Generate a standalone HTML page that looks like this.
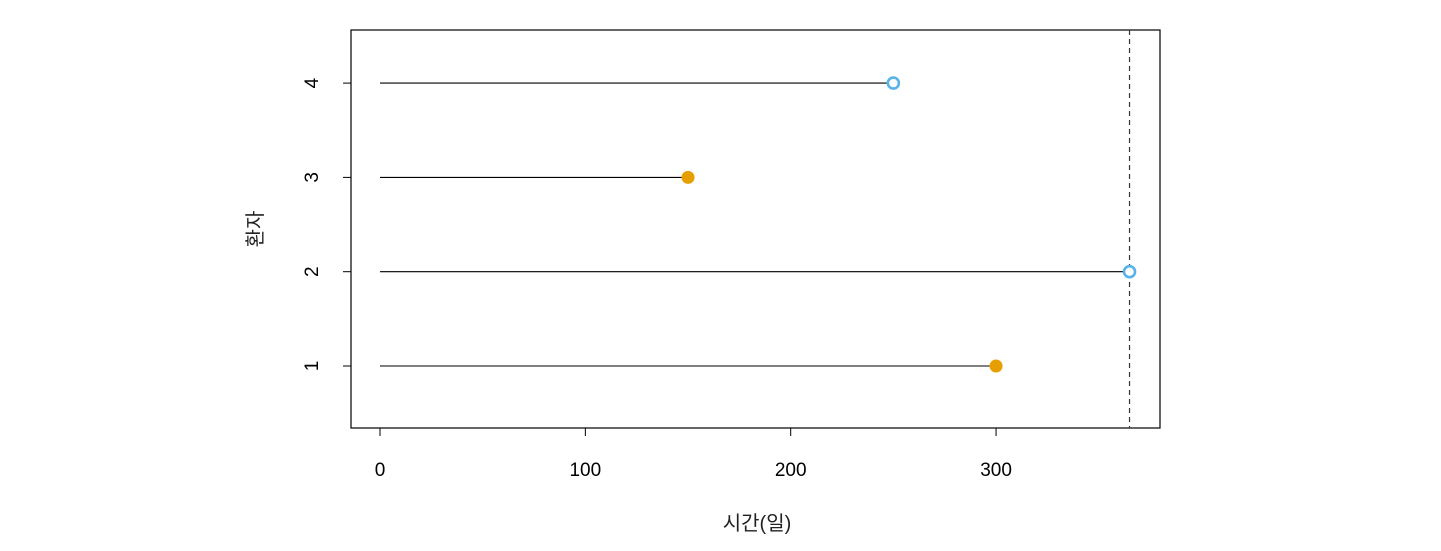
<!DOCTYPE html>
<html><head><meta charset="utf-8"><style>
html,body{margin:0;padding:0;background:#fff;}
svg{display:block;font-family:"Liberation Sans","Noto Sans CJK KR",sans-serif;}
</style></head><body>
<svg id="chart" width="1441" height="551">
<rect x="351" y="30" width="809" height="398" fill="none" stroke="#000" stroke-width="1.2"/>
<g id="xaxis"></g>
<g id="yaxis"></g>
<g id="marks"></g>
<text x="757" y="530" font-size="20" text-anchor="middle" fill="#222">시간(일)</text>
<text transform="translate(262,229) rotate(-90)" font-size="20" text-anchor="middle" fill="#222">환자</text>
</svg>
<script>
const patients = [1, 2, 3, 4];
const times = [300, 365, 150, 250];
const events = [1, 0, 1, 0];
const cutoff = 365;
const xTicks = [0, 100, 200, 300];
const yTicks = [1, 2, 3, 4];

const NS = "http://www.w3.org/2000/svg";
function X(v){ return 380 + v * 2.0535; }
function Y(v){ return 366 - (v - 1) * 94.3; }
function mk(tag, attrs, parent){
  const e = document.createElementNS(NS, tag);
  for (const k in attrs) e.setAttribute(k, attrs[k]);
  parent.appendChild(e);
  return e;
}
const xa = document.getElementById('xaxis');
const ya = document.getElementById('yaxis');
const mg = document.getElementById('marks');

mk('line', {x1: X(xTicks[0]), x2: X(xTicks[xTicks.length-1]), y1: 428, y2: 428, stroke: '#000'}, xa);
xTicks.forEach(t => {
  const l = mk('line', {x1: X(t), x2: X(t), y1: 428, y2: 436, stroke: '#000'}, xa);
  
  
  const tx = mk('text', {x: X(t), y: 476, 'font-size': 19, 'text-anchor': 'middle', fill: '#000'}, xa);
  tx.textContent = t;
  
  
});

mk('line', {x1: 351, x2: 351, y1: Y(yTicks[0]), y2: Y(yTicks[yTicks.length-1]), stroke: '#000'}, ya);
yTicks.forEach(t => {
  const l = mk('line', {x1: 343, x2: 351, y1: Y(t), y2: Y(t), stroke: '#000'}, ya);
  
  
  const tx = mk('text', {transform: `translate(318,${Y(t)}) rotate(-90)`, 'font-size': 19, 'text-anchor': 'middle', fill: '#000'}, ya);
  tx.textContent = t;
  
  
});

const cl = mk('line', {x1: X(cutoff), x2: X(cutoff), y1: 30, y2: 428, stroke: '#333', 'stroke-dasharray': '5,4', 'stroke-width': 1.2}, mg);



patients.forEach((p, i) => {
  const l = mk('line', {x1: X(0), x2: X(times[i]), y1: Y(p), y2: Y(p), stroke: '#000', 'stroke-width': 1.1}, mg);
  
  
  let c;
  if (events[i]) c = mk('circle', {cx: X(times[i]), cy: Y(p), r: 6.5, fill: '#E69F00'}, mg);
  else c = mk('circle', {cx: X(times[i]), cy: Y(p), r: 5.5, fill: '#fff', stroke: '#56B4E9', 'stroke-width': 2.6}, mg);
  
  
});
</script>
</body></html>
